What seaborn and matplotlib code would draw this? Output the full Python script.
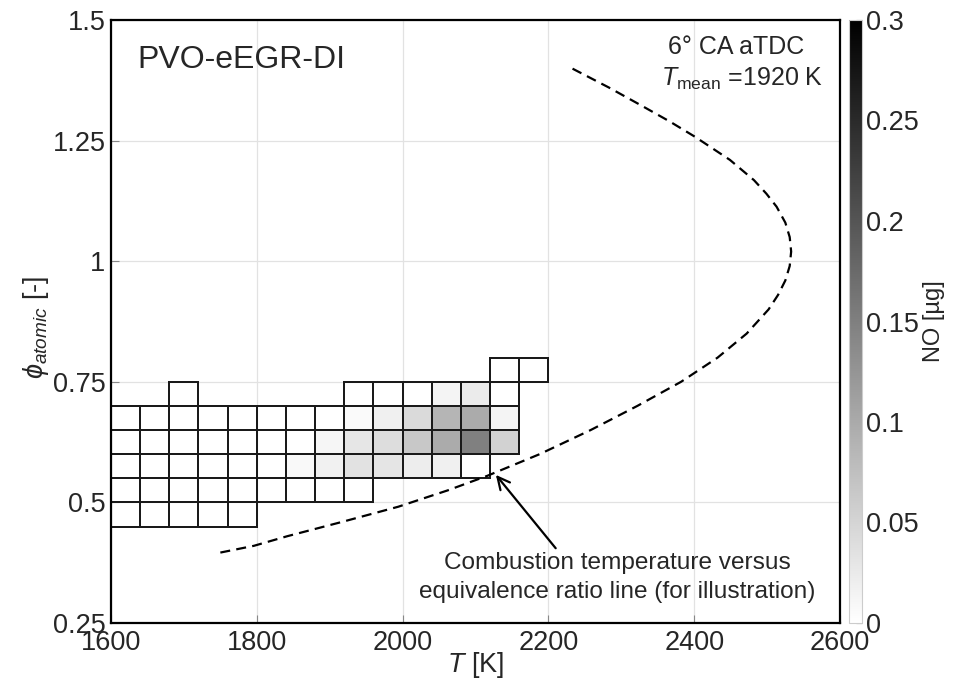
import numpy as np
import pandas as pd
import matplotlib
matplotlib.use("Agg")
import matplotlib.pyplot as plt
import seaborn as sns

# Temperature bins [K] and equivalence-ratio bins of the NO map
T_edges = [1600, 1640, 1680, 1720, 1760, 1800, 1840, 1880, 1920,
           1960, 2000, 2040, 2080, 2120, 2160, 2200]
phi_edges = [0.45, 0.50, 0.55, 0.60, 0.65, 0.70, 0.75, 0.80]

# NO mass per cell [µg], one list per phi bin (low to high), one entry per T bin.
# nan marks cells that hold no in-cylinder mass at all.
nan = np.nan
NO_phi_045 = [0, 0, 0, 0, 0, nan, nan, nan, nan, nan, nan, nan, nan, nan, nan]
NO_phi_050 = [0, 0, 0, 0, 0, 0, 0, 0, 0, nan, nan, nan, nan, nan, nan]
NO_phi_055 = [0, 0, 0, 0, 0, 0, 0.008, 0.017, 0.035, 0.031, 0.022, 0.018, 0, nan, nan]
NO_phi_060 = [0, 0, 0, 0, 0, 0, 0, 0.011, 0.030, 0.041, 0.065, 0.099, 0.149, 0.053, nan]
NO_phi_065 = [0, 0, 0, 0, 0, 0, 0, 0, 0.006, 0.018, 0.044, 0.087, 0.099, 0.013, nan]
NO_phi_070 = [nan, nan, 0, nan, nan, nan, nan, nan, 0, 0, 0, 0.013, 0.0235, 0, nan]
NO_phi_075 = [nan, nan, nan, nan, nan, nan, nan, nan, nan, nan, nan, nan, nan, 0, 0]

# Combustion temperature versus equivalence ratio (illustrative line)
curve_phi = [0.396, 0.410, 0.430, 0.460, 0.491, 0.525, 0.555, 0.600, 0.650,
             0.700, 0.750, 0.800, 0.850, 0.900, 0.930, 0.960, 0.990, 1.020,
             1.050, 1.080, 1.113, 1.140, 1.168, 1.210, 1.258, 1.290, 1.324,
             1.360, 1.400]
curve_T = [1750, 1796, 1842, 1918, 1994, 2062, 2116, 2188, 2258,
           2322, 2382, 2432, 2472, 2502, 2515, 2525, 2531, 2533,
           2531, 2525, 2513, 2499, 2482, 2449, 2401, 2366, 2326,
           2283, 2232]

x_ticks = [1600, 1800, 2000, 2200, 2400, 2600]
y_ticks = [0.25, 0.5, 0.75, 1.0, 1.25, 1.5]
y_ticklabels = ["0.25", "0.5", "0.75", "1", "1.25", "1.5"]
cbar_ticks = [0, 0.05, 0.1, 0.15, 0.2, 0.25, 0.3]
cbar_ticklabels = ["0", "0.05", "0.1", "0.15", "0.2", "0.25", "0.3"]

sns.set_style("ticks")
plt.rcParams["font.family"] = ["Liberation Sans", "DejaVu Sans"]
plt.rcParams["mathtext.fontset"] = "custom"
plt.rcParams["mathtext.rm"] = "Liberation Sans"
plt.rcParams["mathtext.it"] = "Liberation Sans:italic"
plt.rcParams["mathtext.bf"] = "Liberation Sans:bold"

# Long-form table of the occupied cells
NO_grid = np.array([NO_phi_045, NO_phi_050, NO_phi_055, NO_phi_060,
                    NO_phi_065, NO_phi_070, NO_phi_075], dtype=float)
T_c = (np.array(T_edges[:-1]) + np.array(T_edges[1:])) / 2
phi_c = (np.array(phi_edges[:-1]) + np.array(phi_edges[1:])) / 2
TT, PP = np.meshgrid(T_c, phi_c)
present = ~np.isnan(NO_grid)
cells = pd.DataFrame({"T": TT[present], "phi": PP[present], "NO": NO_grid[present]})

fig = plt.figure(figsize=(9.54, 6.86), dpi=100)
ax = fig.add_axes([111 / 954, 63 / 686, 729 / 954, 603 / 686])
cax = fig.add_axes([849 / 954, 63 / 686, 13 / 954, 603 / 686])

ax.set_axisbelow(True)
ax.grid(True, color="#e2e2e2", linewidth=0.9)

sns.histplot(data=cells, x="T", y="phi", weights="NO",
             bins=[np.array(T_edges), np.array(phi_edges)],
             cmap="gray_r", vmax=0.3, thresh=0,
             cbar=True, cbar_ax=cax, ax=ax)

# Outline every occupied cell (zero-NO cells included), nothing else
mesh = ax.collections[0]
edge_rgba = np.zeros((present.size, 4))
edge_rgba[present.ravel()] = (0.1, 0.1, 0.1, 1.0)
mesh.set_edgecolor(edge_rgba)
mesh.set_linewidth(1.3)

sns.lineplot(x=curve_T, y=curve_phi, sort=False, estimator=None, ax=ax,
             color="black", linewidth=1.6, linestyle=(0, (4.5, 2.8)))

ax.set_xlim(1600, 2600)
ax.set_ylim(0.25, 1.5)
ax.set_xticks(x_ticks)
ax.set_yticks(y_ticks)
ax.set_yticklabels(y_ticklabels)
ax.tick_params(axis="both", direction="in", length=6, width=0.8,
               color="#888888", labelsize=19.5, pad=4)
ax.tick_params(axis="x", pad=5)
for s in ax.spines.values():
    s.set_visible(True)
    s.set_linewidth(1.6)
    s.set_color("black")

ax.set_xlabel(r"$T$ [K]", fontsize=19.5)
ax.set_ylabel(r"$\phi_{atomic}$ [-]", fontsize=19.5)
ax.xaxis.set_label_coords(0.5, -0.045)
ax.yaxis.set_label_coords(-0.082, 0.49)

ax.text(1636, 1.417, "PVO-eEGR-DI", fontsize=23, ha="left", va="center")
ax.text(2458, 1.444, "6° CA aTDC", fontsize=18, ha="center", va="center")
ax.text(2466, 1.378, r"$T_{\mathrm{mean}}$ =1920 K", fontsize=18,
        ha="center", va="center")

ax.annotate("", xy=(2128, 0.557), xytext=(2210, 0.405),
            arrowprops=dict(arrowstyle="->", color="black", lw=1.6,
                            mutation_scale=22, shrinkA=0, shrinkB=0))
ax.text(2295, 0.345,
        "Combustion temperature versus\nequivalence ratio line (for illustration)",
        fontsize=17.6, ha="center", va="center", linespacing=1.4)

# Colour bar styling
cax.set_ylim(0, 0.3)
cax.set_yticks(cbar_ticks)
cax.set_yticklabels(cbar_ticklabels)
cax.tick_params(axis="y", direction="in", length=4, width=0.8,
                color="#555555", labelsize=19.5, pad=3)
for s in cax.spines.values():
    s.set_linewidth(0.8)
    s.set_color("#cccccc")
cax.set_ylabel("NO [µg]", fontsize=17, rotation=90, labelpad=3)
cax.yaxis.set_label_position("right")

fig.savefig("out.png", dpi=100)
